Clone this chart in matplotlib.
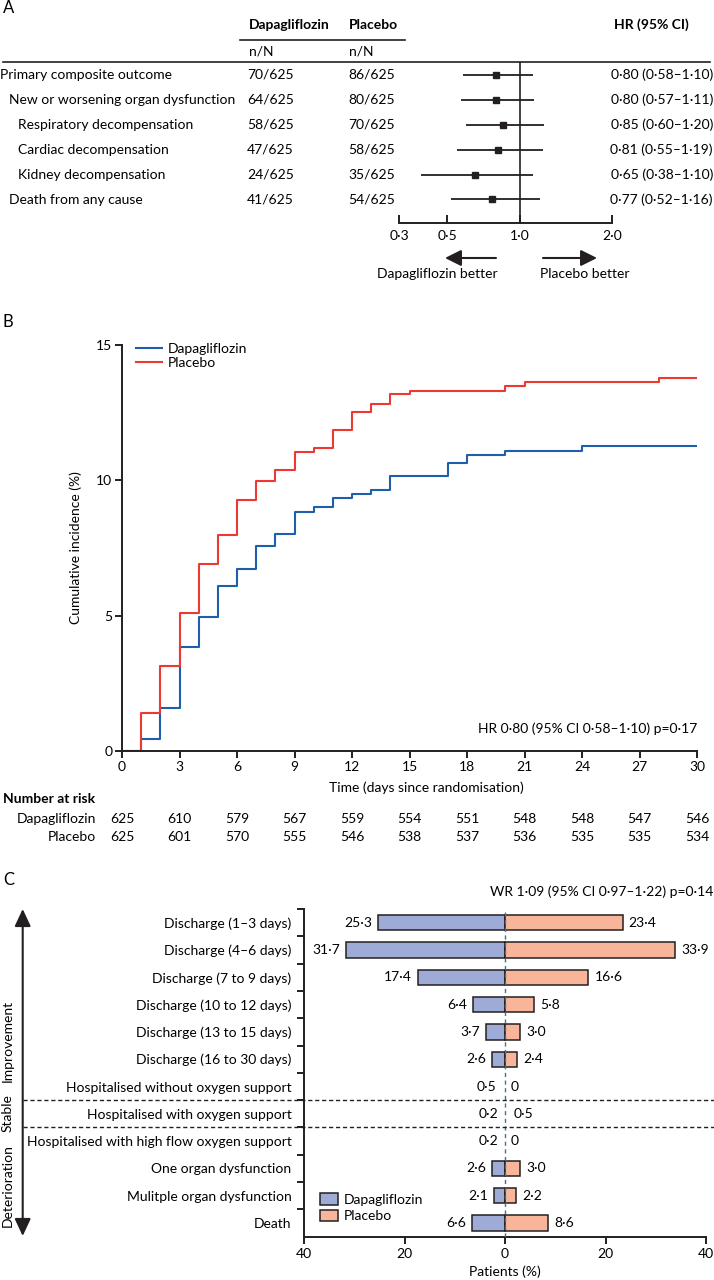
import numpy as np
import matplotlib
matplotlib.use("Agg")
import matplotlib.pyplot as plt
from matplotlib.transforms import blended_transform_factory
from matplotlib.lines import Line2D
from matplotlib.patches import Patch

plt.rcParams['font.family'] = ['Lato', 'DejaVu Sans']
plt.rcParams['font.size'] = 10

W, H = 714, 1280

# --- Panel A data (forest plot) ---
outcomes = ["Primary composite outcome", "New or worsening organ dysfunction",
            "Respiratory decompensation", "Cardiac decompensation",
            "Kidney decompensation", "Death from any cause"]
indent_level = [0, 1, 2, 2, 2, 1]
dapa_events = ["70/625", "64/625", "58/625", "47/625", "24/625", "41/625"]
plac_events = ["86/625", "80/625", "70/625", "58/625", "35/625", "54/625"]
hr = [0.80, 0.80, 0.85, 0.81, 0.65, 0.77]
hr_lo = [0.58, 0.57, 0.60, 0.55, 0.38, 0.52]
hr_hi = [1.10, 1.11, 1.20, 1.19, 1.10, 1.16]
hr_ticks = [0.3, 0.5, 1.0, 2.0]

# --- Panel B data (cumulative incidence) ---
days_dapa = [0, 1, 2, 3, 4, 5, 6, 7, 8, 9, 10, 11, 12, 13, 14, 17, 18, 20, 24, 30]
inc_dapa = [0, 0.46, 1.60, 3.83, 4.96, 6.10, 6.74, 7.57, 8.03, 8.83, 9.01, 9.36,
            9.50, 9.64, 10.15, 10.65, 10.94, 11.10, 11.28, 11.28]
days_plac = [0, 1, 2, 3, 4, 5, 6, 7, 8, 9, 10, 11, 12, 13, 14, 15, 20, 21, 28, 30]
inc_plac = [0, 1.42, 3.15, 5.09, 6.90, 7.99, 9.27, 9.98, 10.39, 11.05, 11.21, 11.85,
            12.51, 12.83, 13.18, 13.30, 13.49, 13.63, 13.79, 13.79]
risk_days = [0, 3, 6, 9, 12, 15, 18, 21, 24, 27, 30]
risk_dapa = [625, 610, 579, 567, 559, 554, 551, 548, 548, 547, 546]
risk_plac = [625, 601, 570, 555, 546, 538, 537, 536, 535, 535, 534]

# --- Panel C data (ordinal outcome) ---
states = ["Discharge (1\u20133 days)", "Discharge (4\u20136 days)", "Discharge (7 to 9 days)",
          "Discharge (10 to 12 days)", "Discharge (13 to 15 days)", "Discharge (16 to 30 days)",
          "Hospitalised without oxygen support", "Hospitalised with oxygen support",
          "Hospitalised with high flow oxygen support", "One organ dysfunction",
          "Mulitple organ dysfunction", "Death"]
pct_dapa = [25.3, 31.7, 17.4, 6.4, 3.7, 2.6, 0.5, 0.2, 0.2, 2.6, 2.1, 6.6]
pct_plac = [23.4, 33.9, 16.6, 5.8, 3.0, 2.4, 0, 0.5, 0, 3.0, 2.2, 8.6]

BLUE = "#1f5eab"
RED = "#ec3a33"
BAR_BLUE = "#9eabd6"
BAR_SALMON = "#f8b59a"
INK = "#231f20"


def fx(x):
    return x / W


def fy(y):
    return 1 - y / H


def dot(s):
    return s.replace(".", "\u00b7")


def fmt(v):
    return "0" if v == 0 else dot(f"{v:.1f}")


fig = plt.figure(figsize=(W / 100, H / 100), dpi=100)

# ================= Panel A =================
# uneven log axis of the original: interpolate log(HR) between tick positions
tick_pos = [0, 48, 121, 213]


def fwd(x):
    x = np.clip(np.asarray(x, dtype=float), 1e-3, None)
    return np.interp(np.log(x), np.log(hr_ticks), tick_pos)


def inv(p):
    return np.exp(np.interp(p, tick_pos, np.log(hr_ticks)))


top_a, bot_a, row0, drow = 61.7, 222.7, 75.0, 24.9
axA = fig.add_axes([fx(399), fy(bot_a), fx(612) - fx(399), (bot_a - top_a) / H])
axA.set_xscale('function', functions=(fwd, inv))
axA.set_xlim(0.3, 2.0)
axA.set_ylim((bot_a - row0) / drow, (top_a - row0) / drow)
for s in ['top', 'right', 'left']:
    axA.spines[s].set_visible(False)
axA.spines['bottom'].set_linewidth(1.4)
axA.spines['bottom'].set_color(INK)
axA.set_xticks(hr_ticks)
axA.set_xticklabels([dot(f"{t:.1f}") for t in hr_ticks])
axA.xaxis.set_minor_locator(matplotlib.ticker.NullLocator())
axA.tick_params(axis='x', direction='in', length=6, width=1.4, color=INK, pad=5, labelsize=10)
axA.set_yticks([])
axA.patch.set_alpha(0)
axA.axvline(1.0, color=INK, lw=1.2)

ypos = np.arange(len(outcomes))
axA.hlines(ypos, hr_lo, hr_hi, color=INK, lw=1.3)
axA.plot(hr, ypos, 's', color=INK, ms=4.5)

trA = blended_transform_factory(fig.transFigure, axA.transData)
for i, name in enumerate(outcomes):
    axA.text(fx(0 + 9 * indent_level[i]), i, name, transform=trA, ha='left', va='center', fontsize=10)
    axA.text(fx(247), i, dapa_events[i], transform=trA, ha='left', va='center', fontsize=10)
    axA.text(fx(348), i, plac_events[i], transform=trA, ha='left', va='center', fontsize=10)
    label = dot(f"{hr[i]:.2f} ({hr_lo[i]:.2f}\u2013{hr_hi[i]:.2f})")
    axA.text(fx(713), i, label, transform=trA, ha='right', va='center', fontsize=10)

fig.text(fx(3), fy(8), "A", fontsize=12, ha='left', va='center')
fig.text(fx(249), fy(25), "Dapagliflozin", fontsize=10, fontweight='bold', ha='left', va='center')
fig.text(fx(349), fy(25), "Placebo", fontsize=10, fontweight='bold', ha='left', va='center')
fig.text(fx(689), fy(25), "HR (95% CI)", fontsize=10, fontweight='bold', ha='right', va='center')
fig.text(fx(249), fy(51), "n/N", fontsize=10, ha='left', va='center')
fig.text(fx(349), fy(51), "n/N", fontsize=10, ha='left', va='center')
fig.add_artist(Line2D([fx(240), fx(405)], [fy(40), fy(40)], color=INK, lw=1.2))
fig.add_artist(Line2D([fx(3), fx(710)], [fy(top_a), fy(top_a)], color=INK, lw=1.2))

arrow_kw = dict(arrowstyle='-|>,head_length=0.7,head_width=0.35', color=INK, lw=1.5,
                shrinkA=0, shrinkB=0, mutation_scale=14)
fig.add_artist(matplotlib.patches.FancyArrowPatch((fx(496), fy(258)), (fx(445), fy(258)),
                                                  transform=fig.transFigure, **arrow_kw))
fig.add_artist(matplotlib.patches.FancyArrowPatch((fx(543), fy(258)), (fx(597), fy(258)),
                                                  transform=fig.transFigure, **arrow_kw))
fig.text(fx(437), fy(274), "Dapagliflozin better", fontsize=10, ha='center', va='center')
fig.text(fx(585), fy(274), "Placebo better", fontsize=10, ha='center', va='center')

# ================= Panel B =================
axB = fig.add_axes([fx(122), fy(751), fx(697) - fx(122), (751 - 345) / H])
axB.step(days_dapa, inc_dapa, where='post', color=BLUE, lw=1.5, label="Dapagliflozin")
axB.step(days_plac, inc_plac, where='post', color=RED, lw=1.5, label="Placebo")
axB.set_xlim(0, 30)
axB.set_ylim(0, 15)
axB.set_xticks(risk_days)
axB.set_yticks([0, 5, 10, 15])
for s in ['top', 'right']:
    axB.spines[s].set_visible(False)
for s in ['left', 'bottom']:
    axB.spines[s].set_linewidth(1.4)
    axB.spines[s].set_color(INK)
axB.tick_params(direction='out', length=5, width=1.4, color=INK, labelsize=10, pad=2)
axB.legend(loc='upper left', bbox_to_anchor=(fx(130), fy(337)), bbox_transform=fig.transFigure,
           frameon=False, handlelength=1.9, handletextpad=0.4, borderaxespad=0,
           labelspacing=0.2, fontsize=10)
axB.text(1.0, fy(729), "HR 0\u00b780 (95% CI 0\u00b758\u20131\u00b710) p=0\u00b717",
         transform=blended_transform_factory(axB.transAxes, fig.transFigure),
         ha='right', va='center', fontsize=10)
fig.text(fx(3), fy(322), "B", fontsize=12, ha='left', va='center')
fig.text(fx(426), fy(788), "Time (days since randomisation)", fontsize=10, ha='center', va='center')
fig.text(fx(76), fy(548), "Cumulative incidence (%)", fontsize=10, rotation=90, ha='center', va='center')

trB = blended_transform_factory(axB.transData, fig.transFigure)
fig.text(fx(3), fy(799), "Number at risk", fontsize=10, fontweight='bold', ha='left', va='center')
fig.text(fx(96), fy(819), "Dapagliflozin", fontsize=10, ha='right', va='center')
fig.text(fx(96), fy(837), "Placebo", fontsize=10, ha='right', va='center')
for d, a, b in zip(risk_days, risk_dapa, risk_plac):
    axB.text(d, fy(819), str(a), transform=trB, ha='center', va='center', fontsize=10)
    axB.text(d, fy(837), str(b), transform=trB, ha='center', va='center', fontsize=10)

# ================= Panel C =================
top_c, bot_c = 909.0, 1236.7
axC = fig.add_axes([fx(304), fy(bot_c), fx(706) - fx(304), (bot_c - top_c) / H])
n = len(states)
yc = np.arange(n)
# bars under 1% are not visible in the original figure
vis_d = [v if v >= 1 else 0 for v in pct_dapa]
vis_p = [v if v >= 1 else 0 for v in pct_plac]
for i in range(n):
    if vis_d[i]:
        axC.barh(yc[i], -vis_d[i], height=0.56, color=BAR_BLUE, edgecolor=INK, lw=1.1, zorder=2)
    if vis_p[i]:
        axC.barh(yc[i], vis_p[i], height=0.56, color=BAR_SALMON, edgecolor=INK, lw=1.1, zorder=2)
gap = 1.2
for i in range(n):
    axC.text(-pct_dapa[i] - gap, yc[i], fmt(pct_dapa[i]), ha='right', va='center', fontsize=10)
    axC.text(pct_plac[i] + gap, yc[i], fmt(pct_plac[i]), ha='left', va='center', fontsize=10)
axC.axvline(0, color="#3f7594", lw=1.0, ls=(0, (3, 2.5)), zorder=3)
axC.set_xlim(-40, 40)
axC.set_ylim(n - 0.5, -0.5)
xt = [-40, -20, 0, 20, 40]
axC.set_xticks(xt)
axC.set_xticklabels([str(abs(t)) for t in xt])
axC.set_yticks(yc)
axC.set_yticklabels(states)
axC.set_yticks(np.arange(-0.5, n - 0.5, 1.0), minor=True)
axC.tick_params(axis='y', which='major', length=0, pad=9, labelsize=10)
axC.tick_params(axis='y', which='minor', direction='out', length=5, width=1.4, color=INK)
axC.tick_params(axis='x', direction='out', length=5, width=1.4, color=INK, labelsize=10, pad=3)
for s in ['top', 'right']:
    axC.spines[s].set_visible(False)
for s in ['left', 'bottom']:
    axC.spines[s].set_linewidth(1.4)
    axC.spines[s].set_color(INK)
axC.patch.set_alpha(0)
fig.text(fx(505), fy(1272), "Patients (%)", fontsize=10, ha='center', va='center')

trC = blended_transform_factory(fig.transFigure, axC.transData)
for yb in [6.5, 7.5]:
    fig.add_artist(Line2D([fx(22.7), fx(714)], [yb, yb], transform=trC, color=INK,
                          lw=1.0, ls=(0, (3, 2))))

fig.add_artist(matplotlib.patches.FancyArrowPatch(
    (fx(22.7), fy(1236)), (fx(22.7), fy(909)), transform=fig.transFigure,
    arrowstyle='<|-|>,head_length=0.75,head_width=0.35', color=INK, lw=1.5,
    shrinkA=0, shrinkB=0, mutation_scale=14))
fig.text(fx(8), fy(1041), "Improvement", rotation=90, fontsize=10, ha='center', va='center')
fig.text(fx(8), fy(1113), "Stable", rotation=90, fontsize=10, ha='center', va='center')
fig.text(fx(8), fy(1186), "Deterioration", rotation=90, fontsize=10, ha='center', va='center')

axC.legend(handles=[Patch(facecolor=BAR_BLUE, edgecolor=INK, lw=1.1, label="Dapagliflozin"),
                    Patch(facecolor=BAR_SALMON, edgecolor=INK, lw=1.1, label="Placebo")],
           loc='upper left', bbox_to_anchor=(fx(320), fy(1193)), bbox_transform=fig.transFigure,
           frameon=False, handlelength=1.3, handleheight=0.9, handletextpad=0.4,
           labelspacing=0.3, borderaxespad=0, borderpad=0, fontsize=10)

fig.text(fx(3), fy(880), "C", fontsize=12, ha='left', va='center')
fig.text(fx(713), fy(892), "WR 1\u00b709 (95% CI 0\u00b797\u20131\u00b722) p=0\u00b714",
         fontsize=10, ha='right', va='center')

fig.savefig("out.png", dpi=100)
